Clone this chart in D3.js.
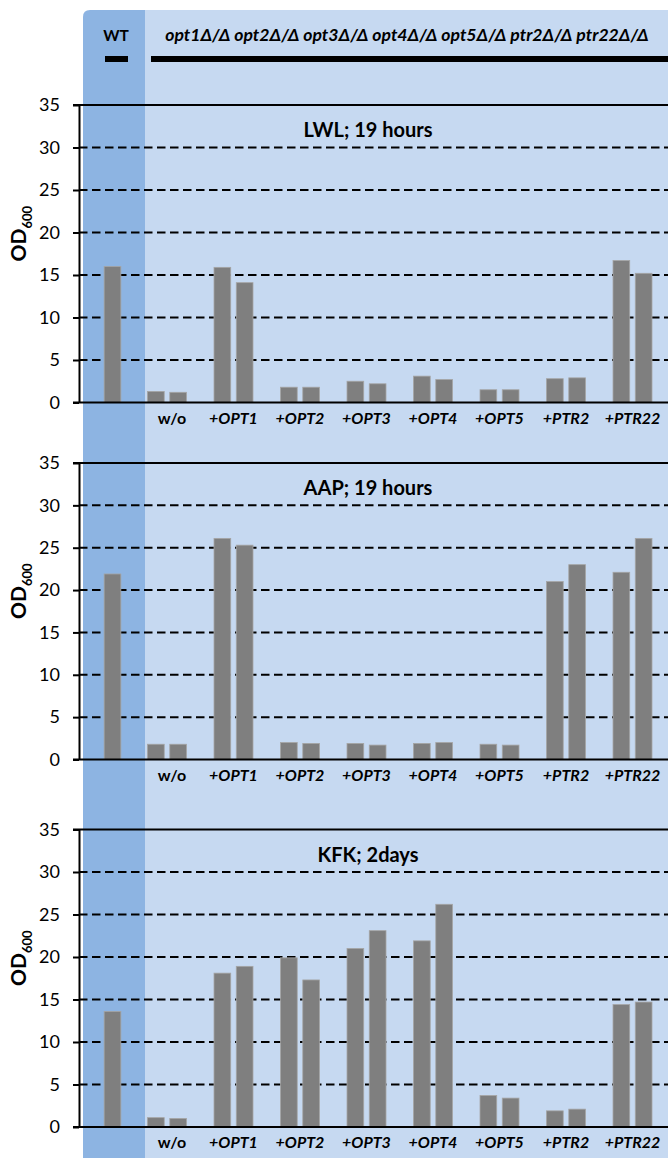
<!DOCTYPE html>
<html>
<head>
<meta charset="utf-8">
<script src="https://cdn.jsdelivr.net/npm/d3@7"></script>
<style>
  html, body { margin: 0; padding: 0; background: #fff; }
  svg { display: block; font-family: Lato, "Open Sans", sans-serif; }
</style>
</head>
<body>
<script>
// Strains complemented in the deletion background
const groups = ["w/o", "+OPT1", "+OPT2", "+OPT3", "+OPT4", "+OPT5", "+PTR2", "+PTR22"];
const panelTitles = ["LWL; 19 hours", "AAP; 19 hours", "KFK; 2days"];
const yTicks = [0, 5, 10, 15, 20, 25, 30, 35];

// Wild-type OD600 per medium
const wtValues = [16.0, 21.9, 13.6];

// OD600 for the two replicates of each strain, per medium
const lwlRep1 = [1.3, 15.9, 1.8, 2.5, 3.1, 1.5, 2.8, 16.7];
const lwlRep2 = [1.2, 14.1, 1.8, 2.2, 2.7, 1.5, 2.9, 15.2];
const aapRep1 = [1.8, 26.1, 2.0, 1.9, 1.9, 1.8, 21.0, 22.1];
const aapRep2 = [1.8, 25.3, 1.9, 1.7, 2.0, 1.7, 23.0, 26.1];
const kfkRep1 = [1.1, 18.1, 19.9, 21.0, 21.9, 3.7, 1.9, 14.4];
const kfkRep2 = [1.0, 18.9, 17.3, 23.1, 26.2, 3.4, 2.1, 14.7];

const panels = [
  { title: panelTitles[0], wt: wtValues[0], reps: [lwlRep1, lwlRep2] },
  { title: panelTitles[1], wt: wtValues[1], reps: [aapRep1, aapRep2] },
  { title: panelTitles[2], wt: wtValues[2], reps: [kfkRep1, kfkRep2] }
];

const W = 668, H = 1158;
const DARK = "#8DB4E2", LIGHT = "#C6D9F1", BAR = "#7F7F7F";
const axisX = 79, rightX = W;
// vertical extent of each panel: [y at 35, y at 0]
const panelRanges = [[105, 402.5], [463, 759.5], [829.5, 1127]];

const svg = d3.select("body").append("svg")
  .attr("width", W).attr("height", H)
  .attr("viewBox", `0 0 ${W} ${H}`);

// Shaded backgrounds: wild-type column and mutant area
svg.append("rect").attr("x", 145).attr("y", 10).attr("width", W - 145 + 10).attr("height", H)
  .attr("fill", LIGHT);
svg.append("path").attr("d", `M83,${H + 5} V17 Q83,10 90,10 H145 V${H + 5} Z`).attr("fill", DARK);

// Header: genotype labels with bars
svg.append("text").attr("x", 116).attr("y", 41).attr("text-anchor", "middle")
  .attr("font-weight", 700).attr("font-size", 15.5).text("WT");
svg.append("text").attr("x", 407).attr("y", 41).attr("text-anchor", "middle")
  .attr("font-weight", 700).attr("font-style", "italic").attr("font-size", 17.6)
  .text("opt1Δ/Δ opt2Δ/Δ opt3Δ/Δ opt4Δ/Δ opt5Δ/Δ ptr2Δ/Δ ptr22Δ/Δ");
svg.append("rect").attr("x", 105).attr("y", 56).attr("width", 23).attr("height", 6).attr("fill", "#000");
svg.append("rect").attr("x", 151).attr("y", 56).attr("width", W - 151).attr("height", 6).attr("fill", "#000");

// Horizontal placement of strain groups and replicates
const x = d3.scaleBand().domain(groups).range([133.75, 665.75]).paddingInner(0).paddingOuter(0);
const xRep = d3.scaleBand().domain([0, 1]).range([-19.5, 19.5]).paddingInner(0.25).paddingOuter(0);
const wtCenter = 112.5;

panels.forEach((p, i) => {
  const [yTop, yZero] = panelRanges[i];
  const y = d3.scaleLinear().domain([0, 35]).range([yZero, yTop]);
  const g = svg.append("g");

  // dashed gridlines
  g.selectAll("line.grid").data(yTicks.filter(v => v > 0 && v < 35)).join("line")
    .attr("class", "grid")
    .attr("x1", axisX).attr("x2", rightX)
    .attr("y1", d => y(d)).attr("y2", d => y(d))
    .attr("stroke", "#000").attr("stroke-width", 2).attr("stroke-dasharray", "8.5,4.5");
  // solid top line
  g.append("line").attr("x1", axisX - 6).attr("x2", rightX)
    .attr("y1", y(35)).attr("y2", y(35)).attr("stroke", "#000").attr("stroke-width", 2);

  // title
  g.append("text").attr("x", 368).attr("y", yTop + 32).attr("text-anchor", "middle")
    .attr("font-weight", 700).attr("font-size", 20).text(p.title);

  // wild-type bar
  g.append("rect")
    .datum(p.wt)
    .attr("x", wtCenter - xRep.bandwidth() / 2).attr("width", xRep.bandwidth())
    .attr("y", d => y(d)).attr("height", d => y(0) - y(d))
    .attr("fill", BAR).attr("stroke", "#A5A5A5").attr("stroke-width", 0.8);

  // replicate bars per strain
  const rows = groups.map((name, k) => ({ name, vals: p.reps.map(r => r[k]) }));
  g.selectAll("g.grp").data(rows).join("g")
    .attr("class", "grp")
    .attr("transform", d => `translate(${x(d.name) + x.bandwidth() / 2},0)`)
    .selectAll("rect").data(d => d.vals.map((v, j) => ({ v, j }))).join("rect")
    .attr("x", d => xRep(d.j)).attr("width", xRep.bandwidth())
    .attr("y", d => y(d.v)).attr("height", d => y(0) - y(d.v))
    .attr("fill", BAR).attr("stroke", "#A5A5A5").attr("stroke-width", 0.8);

  // baseline
  g.append("line").attr("x1", axisX - 6).attr("x2", rightX)
    .attr("y1", y(0)).attr("y2", y(0)).attr("stroke", "#000").attr("stroke-width", 2);

  // y axis
  const ax = g.append("g").attr("transform", `translate(${axisX},0)`)
    .call(d3.axisLeft(y).tickValues(yTicks).tickSize(6).tickSizeOuter(0).tickPadding(13));
  ax.select(".domain").attr("stroke", "#000").attr("stroke-width", 2);
  ax.selectAll(".tick line").attr("stroke", "#000").attr("stroke-width", 2);
  ax.selectAll(".tick text").attr("font-family", "Lato, sans-serif").attr("font-size", 18).attr("fill", "#000");

  // y axis title: OD600
  const cy = (yTop + yZero) / 2 - 20;
  const t = g.append("text").attr("transform", `translate(26,${cy}) rotate(-90)`)
    .attr("text-anchor", "middle").attr("font-weight", 700).attr("font-size", 21);
  t.append("tspan").text("OD");
  t.append("tspan").attr("dy", 6).attr("font-size", 13).text("600");

  // strain labels
  g.selectAll("text.cat").data(groups).join("text")
    .attr("class", "cat")
    .attr("x", d => x(d) + x.bandwidth() / 2 + (d === "w/o" ? 5 : 0))
    .attr("y", y(0) + 21)
    .attr("text-anchor", "middle")
    .attr("font-weight", 700).attr("font-size", 16)
    .attr("font-style", d => d === "w/o" ? "normal" : "italic")
    .text(d => d);
});
</script>
</body>
</html>
